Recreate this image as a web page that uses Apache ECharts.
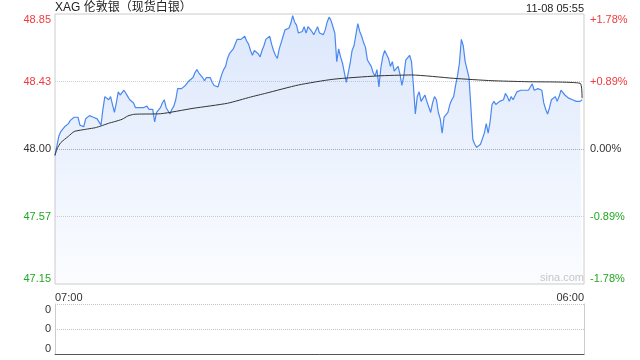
<!DOCTYPE html>
<html>
<head>
<meta charset="utf-8">
<style>html,body{margin:0;padding:0;background:#fff;}#c{width:640px;height:360px;}</style>
<script src="https://cdn.jsdelivr.net/npm/echarts@6/dist/echarts.min.js"></script>
</head>
<body>
<div id="c"></div>
<script>
const titleText = 'XAG 伦敦银（现货白银）';
const timeText = '11-08 05:55';
const prevClose = 48.00;
const yMin = 47.15, yMax = 48.85, yStep = 0.425;
const leftLabels = ['47.15', '47.57', '48.00', '48.43', '48.85'];
const rightLabels = ['-1.78%', '-0.89%', '0.00%', '+0.89%', '+1.78%'];
const labelColors = ['#22a822', '#22a822', '#333333', '#ef3b3b', '#ef3b3b'];
const volLabels = ['0', '0', '0'];
const startTime = '07:00', stepMinutes = 5, categoryCount = 277;

// price every 5 minutes from 07:00 to 05:55
const priceValues = [
  47.96, 48.02, 48.08, 48.11, 48.12, 48.14, 48.14, 48.16, 48.18, 48.19,
  48.20, 48.19, 48.20, 48.15, 48.14, 48.14, 48.19, 48.20, 48.21, 48.20,
  48.20, 48.20, 48.19, 48.18, 48.15, 48.25, 48.33, 48.33, 48.31, 48.33,
  48.28, 48.23, 48.29, 48.36, 48.34, 48.34, 48.37, 48.36, 48.33, 48.31,
  48.30, 48.29, 48.26, 48.27, 48.26, 48.26, 48.26, 48.26, 48.27, 48.25,
  48.24, 48.25, 48.17, 48.23, 48.24, 48.26, 48.29, 48.31, 48.26, 48.25,
  48.22, 48.25, 48.27, 48.31, 48.38, 48.38, 48.38, 48.39, 48.40, 48.40,
  48.43, 48.43, 48.45, 48.48, 48.50, 48.48, 48.48, 48.45, 48.43, 48.45,
  48.44, 48.45, 48.42, 48.40, 48.41, 48.39, 48.43, 48.47, 48.50, 48.52,
  48.57, 48.60, 48.61, 48.63, 48.64, 48.69, 48.70, 48.69, 48.69, 48.71,
  48.68, 48.66, 48.62, 48.59, 48.62, 48.63, 48.60, 48.58, 48.62, 48.65,
  48.69, 48.69, 48.71, 48.66, 48.62, 48.59, 48.57, 48.63, 48.67, 48.71,
  48.75, 48.74, 48.76, 48.79, 48.84, 48.80, 48.78, 48.73, 48.72, 48.74,
  48.77, 48.73, 48.77, 48.76, 48.74, 48.72, 48.72, 48.77, 48.73, 48.73,
  48.72, 48.75, 48.80, 48.83, 48.81, 48.77, 48.73, 48.55, 48.63, 48.58,
  48.54, 48.48, 48.42, 48.41, 48.54, 48.62, 48.65, 48.72, 48.79, 48.74,
  48.71, 48.67, 48.64, 48.56, 48.55, 48.52, 48.48, 48.46, 48.50, 48.39,
  48.51, 48.58, 48.62, 48.62, 48.57, 48.52, 48.55, 48.49, 48.48, 48.52,
  48.47, 48.40, 48.46, 48.56, 48.57, 48.59, 48.55, 48.40, 48.22, 48.33,
  48.36, 48.30, 48.32, 48.34, 48.30, 48.31, 48.23, 48.29, 48.33, 48.31,
  48.23, 48.19, 48.10, 48.20, 48.19, 48.23, 48.28, 48.31, 48.33, 48.40,
  48.46, 48.54, 48.69, 48.65, 48.55, 48.55, 48.45, 48.26, 48.06, 48.03,
  48.01, 48.00, 48.03, 48.03, 48.10, 48.16, 48.10, 48.17, 48.28, 48.30,
  48.28, 48.28, 48.30, 48.30, 48.31, 48.35, 48.33, 48.30, 48.33, 48.31,
  48.31, 48.36, 48.36, 48.37, 48.37, 48.37, 48.36, 48.37, 48.39, 48.41,
  48.37, 48.38, 48.38, 48.37, 48.37, 48.29, 48.25, 48.22, 48.26, 48.31,
  48.30, 48.33, 48.30, 48.33, 48.37, 48.36, 48.34, 48.33, 48.32, 48.32,
  48.31, 48.31, 48.30, 48.29, 48.30, 48.31
];

// average price line, read at these times
const avgTimes = ['07:00','07:05','07:15','07:35','07:50','08:10','08:25','08:45','09:00','09:20',
  '09:35','09:55','10:10','10:25','10:45','11:35','13:00','14:30','15:30','16:10',
  '17:35','19:05','21:00','22:30','00:20','02:00','03:25','05:50','05:55'];
const avgValues = [47.96, 48.00, 48.04, 48.08, 48.11, 48.12, 48.126, 48.134, 48.145, 48.162,
  48.172, 48.187, 48.208, 48.218, 48.220, 48.222, 48.256, 48.288, 48.327, 48.351,
  48.403, 48.439, 48.460, 48.466, 48.445, 48.430, 48.424, 48.414, 48.32];

const categories = [];
(function () {
  const p = startTime.split(':');
  let m = (+p[0]) * 60 + (+p[1]);
  for (let i = 0; i < categoryCount; i++) {
    const t = m % 1440;
    categories.push(String(Math.floor(t / 60)).padStart(2, '0') + ':' + String(t % 60).padStart(2, '0'));
    m += stepMinutes;
  }
})();

const FONT = "'Liberation Sans', Arial, 'Noto Sans CJK SC', sans-serif";
const chart = echarts.init(document.getElementById('c'), null, { renderer: 'canvas' });
chart.setOption({
  animation: false,
  backgroundColor: '#ffffff',
  title: [
    { text: titleText, left: 55, top: 2, padding: 0, textStyle: { fontSize: 12, fontWeight: 'normal', color: '#222', fontFamily: FONT } },
    { text: timeText, right: 56, top: 3, padding: 0, textStyle: { fontSize: 11, fontWeight: 'normal', color: '#222', fontFamily: FONT } }
  ],
  graphic: [
    { type: 'text', right: 56, top: 272, style: { text: 'sina.com', fill: '#c8c8c8', font: "11px " + FONT } }
  ],
  grid: [
    { left: 55, right: 56, top: 14, height: 270, show: true, borderColor: '#cccccc', borderWidth: 1 },
    { left: 55, right: 56, top: 304, height: 50, show: false }
  ],
  xAxis: [
    {
      type: 'category', gridIndex: 0, data: categories, boundaryGap: false,
      axisLine: { show: false }, axisTick: { show: false }, splitLine: { show: false },
      axisLabel: {
        margin: 8, fontSize: 11, color: '#333', fontFamily: FONT,
        interval: function (i) { return i === 0 || i === categoryCount - 1; },
        showMinLabel: true, showMaxLabel: true,
        alignMinLabel: 'left', alignMaxLabel: 'right'
      }
    },
    {
      type: 'category', gridIndex: 1, data: categories, boundaryGap: false,
      axisLine: { show: true, lineStyle: { color: '#555', width: 1 } },
      axisTick: { show: false }, axisLabel: { show: false }, splitLine: { show: false }
    }
  ],
  yAxis: [
    {
      type: 'value', gridIndex: 0, position: 'left', min: yMin, max: yMax, interval: yStep,
      axisLine: { show: false }, axisTick: { show: false },
      axisLabel: {
        margin: 4, fontSize: 11, fontFamily: FONT,
        formatter: function (v, i) { return leftLabels[i]; },
        color: function (v, i) { return labelColors[i]; },
        verticalAlignMinLabel: 'bottom', verticalAlignMaxLabel: 'top'
      },
      splitLine: { show: true, lineStyle: { type: 'dotted', width: 1, color: ['rgba(0,0,0,0)', '#cfcfcf', '#b0b0b0', '#cfcfcf', 'rgba(0,0,0,0)'] } }
    },
    {
      type: 'value', gridIndex: 0, position: 'right', min: yMin, max: yMax, interval: yStep,
      axisLine: { show: false }, axisTick: { show: false }, splitLine: { show: false },
      axisLabel: {
        margin: 6, fontSize: 11, fontFamily: FONT,
        formatter: function (v, i) { return rightLabels[i]; },
        color: function (v, i) { return labelColors[i]; },
        verticalAlignMinLabel: 'bottom', verticalAlignMaxLabel: 'top'
      }
    },
    {
      type: 'value', gridIndex: 1, position: 'left', min: 0, max: 2, interval: 1,
      axisLine: { show: true, lineStyle: { color: '#cccccc' } }, axisTick: { show: false },
      axisLabel: {
        margin: 4, fontSize: 11, color: '#333', fontFamily: FONT,
        formatter: function (v, i) { return volLabels[i]; },
        verticalAlignMinLabel: 'bottom', verticalAlignMaxLabel: 'top'
      },
      splitLine: { show: true, lineStyle: { type: 'dotted', color: '#c4c4c4' } }
    },
    {
      type: 'value', gridIndex: 1, position: 'right', min: 0, max: 2, interval: 1,
      axisLine: { show: true, lineStyle: { color: '#cccccc' } }, axisTick: { show: false },
      axisLabel: { show: false }, splitLine: { show: false }
    }
  ],
  series: [
    {
      type: 'line', name: 'price', xAxisIndex: 0, yAxisIndex: 0, data: priceValues,
      symbol: 'none', smooth: false,
      lineStyle: { color: '#4a88f0', width: 1.2 },
      areaStyle: {
        origin: 'start',
        color: new echarts.graphic.LinearGradient(0, 0, 0, 1, [
          { offset: 0, color: 'rgba(72,130,240,0.27)' },
          { offset: 1, color: 'rgba(72,130,240,0.03)' }
        ])
      },
      z: 3
    },
    {
      type: 'line', name: 'avg', xAxisIndex: 0, yAxisIndex: 0,
      data: avgTimes.map(function (t, i) { return [t, avgValues[i]]; }),
      symbol: 'none', smooth: 0.2,
      lineStyle: { color: '#333333', width: 1 },
      z: 4
    }
  ]
});
</script>
</body>
</html>
